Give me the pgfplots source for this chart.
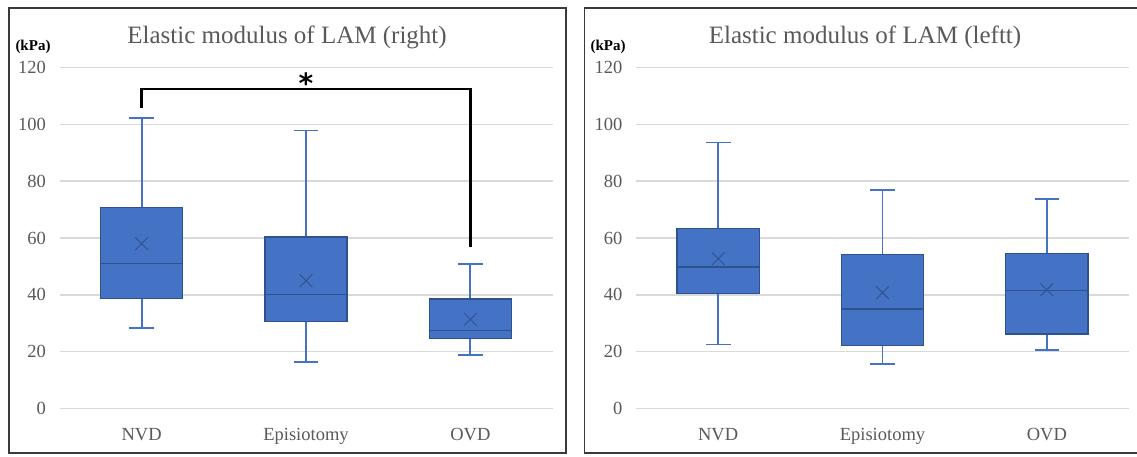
\documentclass[border=0pt]{standalone}
\usepackage{pgfplots}
\pgfplotsset{compat=1.18}
\usepgfplotslibrary{statistics}
\usepackage{fontspec}
\setmainfont{Liberation Serif}
\newfontfamily\starfont{DejaVu Sans}

\definecolor{boxfill}{HTML}{4472C4}
\definecolor{boxedge}{HTML}{2F528F}
\definecolor{gridc}{HTML}{D9D9D9}
\definecolor{txt}{HTML}{595959}
\definecolor{framec}{HTML}{3A3A3A}

\pgfplotsset{
  lam/.style={
    scale only axis, width=493pt, height=341.4pt,
    xmin=0.5, xmax=3.5, ymin=0, ymax=120,
    xtick={1,2,3}, xticklabels={NVD,Episiotomy,OVD},
    ytick={0,20,...,120},
    ymajorgrids, grid style={gridc, line width=1.3pt},
    axis line style={draw=none}, major tick length=0pt,
    /pgf/number format/assume math mode=true,
    tick label style={font=\fontsize{18.5}{18.5}\selectfont, text=txt},
    yticklabel style={xshift=-10pt},
    xticklabel style={yshift=-16pt},
    clip=false,
    boxplot/draw direction=y,
    boxplot/box extend=0.5,
    boxplot/whisker extend=0.15,
    boxplot/every box/.style={fill=boxfill, draw=boxedge, line width=1.3pt},
    boxplot/every median/.style={draw=boxedge, line width=1.6pt},
    boxplot/every whisker/.style={draw=boxfill, line width=1.8pt},
  },
  meanmark/.style={only marks, mark=x, mark size=9pt, boxedge,
    mark options={line width=0.9pt}},
}

\begin{document}
\begin{tikzpicture}
\path[use as bounding box] (0pt,0pt) rectangle (1137pt,456pt);
\draw[line width=1.6pt, framec] (9pt,3pt) rectangle (566pt,448pt);
\draw[line width=1.6pt, framec] (584.5pt,3pt) rectangle (1170pt,448pt);

\node[font=\fontsize{25}{25}\selectfont, text=txt] at (287pt,419pt) {Elastic modulus of LAM (right)};
\node[font=\bfseries\fontsize{15}{15}\selectfont] at (33pt,409.5pt) {(kPa)};
\node[font=\fontsize{25}{25}\selectfont, text=txt] at (865pt,419pt) {Elastic modulus of LAM (leftt)};
\node[font=\bfseries\fontsize{15}{15}\selectfont] at (608pt,409.5pt) {(kPa)};

% right LAM
\begin{axis}[lam, at={(59.5pt,47.3pt)}, anchor=south west]
\addplot[boxplot prepared={draw position=1, lower whisker=28.5, lower quartile=38.7,
  median=51.0, upper quartile=70.6, upper whisker=102.2}] coordinates {};
\addplot[boxplot prepared={draw position=2, lower whisker=16.3, lower quartile=30.7,
  median=40.1, upper quartile=60.3, upper whisker=97.8}] coordinates {};
\addplot[boxplot prepared={draw position=3, lower whisker=18.9, lower quartile=24.7,
  median=27.5, upper quartile=38.6, upper whisker=51.0}] coordinates {};
\addplot[meanmark] coordinates {(1,58.0) (2,45.0) (3,31.4)};
\draw[line width=2.8pt, black] (axis cs:1,105.6) -- (axis cs:1,112.4)
  -- (axis cs:3,112.4) -- (axis cs:3,57);
\node[font=\starfont\bfseries\fontsize{28}{28}\selectfont] at (axis cs:2,114.3) {*};
\end{axis}

% left LAM
\begin{axis}[lam, at={(636pt,47.3pt)}, anchor=south west]
\addplot[boxplot prepared={draw position=1, lower whisker=22.6, lower quartile=40.6,
  median=49.8, upper quartile=63.3, upper whisker=93.6}] coordinates {};
\addplot[boxplot prepared={draw position=2, lower whisker=15.7, lower quartile=22.3,
  median=35.1, upper quartile=54.2, upper whisker=76.8}] coordinates {};
\addplot[boxplot prepared={draw position=3, lower whisker=20.5, lower quartile=26.3,
  median=41.6, upper quartile=54.6, upper whisker=73.8}] coordinates {};
\addplot[meanmark] coordinates {(1,52.7) (2,40.8) (3,41.8)};
\end{axis}
\end{tikzpicture}
\end{document}
